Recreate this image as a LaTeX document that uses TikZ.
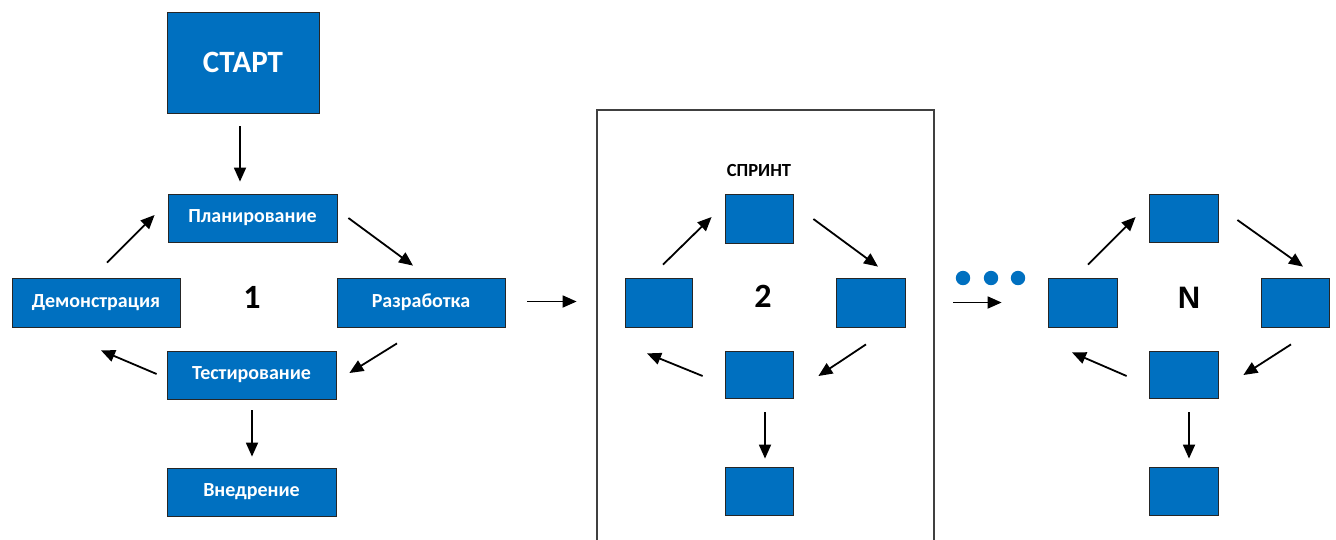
\documentclass[tikz,border=0pt]{standalone}
\usepackage{fontspec}
\setmainfont{Carlito}
\newfontfamily\arialfont{Liberation Sans}
\usetikzlibrary{arrows.meta,calc}
\definecolor{boxblue}{HTML}{0070C0}
\begin{document}
\begin{tikzpicture}[x=1pt,y=-1pt,
  bluebox/.style={draw=black!85,line width=0.8pt,fill=boxblue,text=white,inner sep=0pt,
    font=\bfseries\fontsize{20}{22}\selectfont},
  arr/.style={line width=1.8pt,-{Triangle[length=14pt,width=12pt]}},
  bignum/.style={font=\bfseries\fontsize{34}{38}\selectfont,inner sep=0pt}]
\useasboundingbox (0,0) rectangle (1336,539);
% group 1
\node[bluebox,minimum width=152pt,minimum height=101pt,font=\bfseries\fontsize{31}{34}\selectfont] (start) at (243,62.5) {СТАРТ};
\node[bluebox,minimum width=169pt,minimum height=48pt] (plan) at (252.5,218) {Планирование};
\node[bluebox,minimum width=168pt,minimum height=49pt] (demo) at (96,302.5) {Демонстрация};
\node[bluebox,minimum width=168pt,minimum height=49pt] (razr) at (421,302.5) {Разработка};
\node[bluebox,minimum width=169pt,minimum height=48pt] (test) at (251.5,375) {Тестирование};
\node[bluebox,minimum width=169pt,minimum height=48pt] (vned) at (251.5,492) {Внедрение};
\node[bignum] (one) at (252,297) {1};
\draw[arr] ($(start.south)+(-3,13)$) -- ($(plan.north)+(-12.5,-12)$);
\draw[arr] ($(demo.north)+(11,-15)$) -- ($(plan.west)+(-13,-3)$);
\draw[arr] ($(plan.east)+(11,0)$) -- ($(razr.north)+(-8,-12)$);
\draw[arr] ($(razr.south)+(-24,16)$) -- ($(test.east)+(13,-2)$);
\draw[arr] ($(test.west)+(-10,-1)$) -- ($(demo.south)+(5,23)$);
\draw[arr] ($(test.south)+(0.5,11)$) -- ($(vned.north)+(0.5,-11)$);
% sprint frame
\draw[line width=1.1pt,draw=black!75] (597,545) -- (597,110) -- (934,110) -- (934,545);
\node[font=\bfseries\fontsize{18.5}{20}\selectfont,inner sep=0pt] (sprint) at (759,170) {СПРИНТ};
\node[bluebox,minimum width=68pt,minimum height=49pt] (stop) at (759,218.5) {};
\node[bluebox,minimum width=67pt,minimum height=49pt] (sleft) at (658.5,302.5) {};
\node[bluebox,minimum width=69pt,minimum height=49pt] (sright) at (870.5,302.5) {};
\node[bluebox,minimum width=68pt,minimum height=47pt] (sbot) at (759,374.5) {};
\node[bluebox,minimum width=68pt,minimum height=48pt] (slow) at (759,491) {};
\node[bignum] (two) at (763,296) {2};
\draw[arr] ($(razr.east)+(22,-1)$) -- ($(sleft.west)+(-48,-1)$);
\draw[arr] ($(sleft.north)+(4.5,-13)$) -- ($(stop.west)+(-13,-1.5)$);
\draw[arr] ($(stop.east)+(20,0.5)$) -- ($(sright.north)+(7.5,-11)$);
\draw[arr] ($(sright.south)+(-4.5,17)$) -- ($(sbot.east)+(25,1.5)$);
\draw[arr] ($(sbot.west)+(-22,1.5)$) -- ($(sleft.south)+(-11.5,26)$);
\draw[arr] ($(sbot.south)+(6,14)$) -- ($(slow.north)+(6,-8)$);
% dots
\fill[boxblue] (963,278) circle[radius=7.2];
\fill[boxblue] (991,278) circle[radius=7.2];
\fill[boxblue] (1018,278) circle[radius=7.2];
% group N
\node[bluebox,minimum width=69pt,minimum height=48pt] (ntop) at (1183.5,218) {};
\node[bluebox,minimum width=69pt,minimum height=49pt] (nleft) at (1082.5,302.5) {};
\node[bluebox,minimum width=68pt,minimum height=49pt] (nright) at (1295,302.5) {};
\node[bluebox,minimum width=69pt,minimum height=47pt] (nbot) at (1183.5,374.5) {};
\node[bluebox,minimum width=69pt,minimum height=48pt] (nlow) at (1183.5,491) {};
\node[font=\arialfont\bfseries\fontsize{31}{34}\selectfont,inner sep=0pt] (nn) at (1189,298) {N};
\draw[arr] ($(sright.east)+(48,0)$) -- ($(nleft.west)+(-46,0)$);
\draw[arr] ($(nleft.north)+(5.5,-13)$) -- ($(ntop.west)+(-13,-1)$);
\draw[arr] ($(ntop.east)+(19,2)$) -- ($(nright.north)+(8,-11)$);
\draw[arr] ($(nright.south)+(-4,17)$) -- ($(nbot.east)+(25,0.5)$);
\draw[arr] ($(nbot.west)+(-22,1.5)$) -- ($(nleft.south)+(-10.5,25)$);
\draw[arr] ($(nbot.south)+(5.5,14)$) -- ($(nlow.north)+(5.5,-8)$);
\end{tikzpicture}
\end{document}
